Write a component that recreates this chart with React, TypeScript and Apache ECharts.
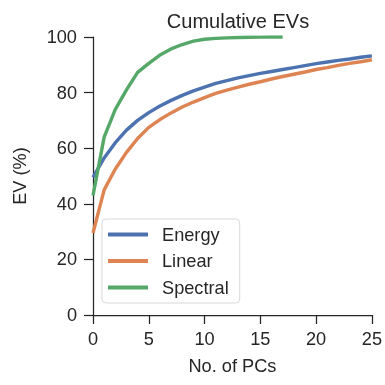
import React, { useEffect, useRef } from "react";
import * as echarts from "echarts";

const energy = [49.5, 56.5, 62, 66.5, 70, 72.8, 75.2, 77.2, 79, 80.6, 82, 83.3, 84.3, 85.3, 86.1, 86.9, 87.6, 88.3, 89.0, 89.7, 90.4, 91.0, 91.6, 92.1, 92.7, 93.2];
const linear = [29.5, 45, 52.5, 58.5, 63.5, 67.5, 70.3, 72.7, 74.8, 76.6, 78.2, 79.7, 80.9, 82.0, 83.0, 83.9, 84.9, 85.8, 86.6, 87.4, 88.3, 89.0, 89.8, 90.5, 91.1, 91.8];
const spectral = [43, 64, 74, 81, 87.3, 90.5, 93.5, 95.7, 97.3, 98.5, 99.2, 99.5, 99.7, 99.8, 99.9, 99.95, 100, 100];
const seriesNames = ["Energy", "Linear", "Spectral"];
const colors = ["#4C72B0", "#DD8452", "#55A868"];

const toPairs = (arr: number[]) => arr.map((v, i) => [i, v]);

export default function App() {
  const ref = useRef<HTMLDivElement>(null);
  useEffect(() => {
    if (!ref.current) return;
    const chart = echarts.init(ref.current, undefined, { renderer: "svg" });
    const font = "Liberation Sans";
    const ink = "#262626";
    const fs = 18.2;
    const axisCommon = {
      axisLine: { show: true, lineStyle: { color: ink, width: 1.25 } },
      axisTick: { show: true, inside: false, length: 9, lineStyle: { color: ink, width: 1.25 } },
      axisLabel: { color: ink, fontSize: fs, fontFamily: font },
      splitLine: { show: false },
      nameTextStyle: { color: ink, fontSize: fs, fontFamily: font },
    };
    chart.setOption({
      animation: false,
      color: colors,
      title: {
        text: "Cumulative EVs",
        left: 233,
        textAlign: "center",
        top: 6,
        textStyle: { color: ink, fontSize: 20, fontWeight: "normal", fontFamily: font },
      },
      grid: { left: 93, right: 12, top: 37, bottom: 70 },
      xAxis: {
        type: "value",
        min: 0,
        max: 25,
        interval: 5,
        name: "No. of PCs",
        nameLocation: "middle",
        nameGap: 42,
        ...axisCommon,
        axisLabel: { ...axisCommon.axisLabel, margin: 15 },
      },
      yAxis: {
        type: "value",
        min: 0,
        max: 100,
        interval: 20,
        name: "EV (%)",
        nameLocation: "middle",
        nameGap: 64,
        ...axisCommon,
        axisLabel: { ...axisCommon.axisLabel, margin: 16 },
      },
      legend: {
        orient: "vertical",
        left: 102,
        top: 219,
        padding: [6, 11, 6, 6],
        backgroundColor: "rgba(255,255,255,0.85)",
        borderColor: "#d8d8d8",
        borderWidth: 1,
        borderRadius: 4,
        itemWidth: 40,
        itemHeight: 4,
        itemGap: 7.5,
        icon: "rect",
        textStyle: { color: ink, fontSize: fs, fontFamily: font, lineHeight: 19, padding: [0, 0, 0, 9] },
        data: seriesNames,
      },
      series: [energy, linear, spectral].map((arr, i) => ({
        name: seriesNames[i],
        type: "line",
        data: toPairs(arr),
        showSymbol: false,
        symbol: "none",
        lineStyle: { width: 3.4, color: colors[i] },
        itemStyle: { color: colors[i] },
      })),
    });
    return () => chart.dispose();
  }, []);
  return <div ref={ref} style={{ position: "fixed", left: 0, top: 0, width: 385, height: 385 }} />;
}
